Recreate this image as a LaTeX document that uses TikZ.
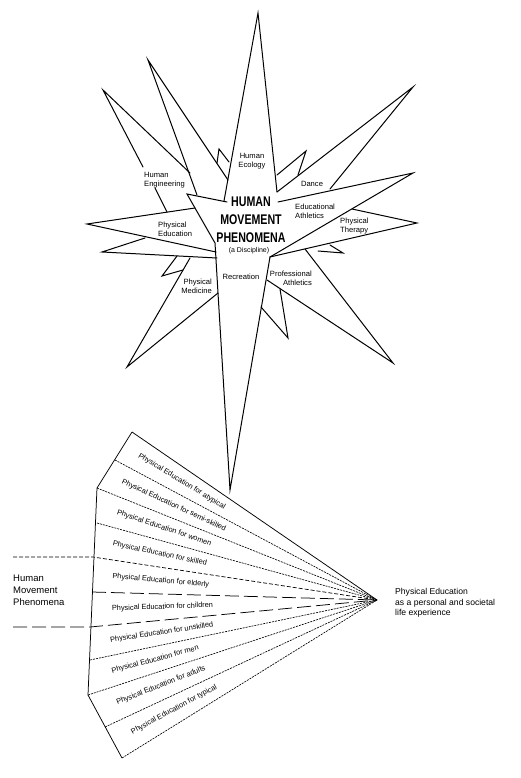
\documentclass[tikz,border=0pt]{standalone}
\usepackage{fontspec}
\setmainfont{Liberation Sans}
\newfontfamily\titlefont{Liberation Sans}[FakeStretch=0.76]
\usetikzlibrary{calc}
\usetikzlibrary{positioning}
\tikzset{
starline/.style={
	draw=black,
	line width=1pt,
	line join=miter,
	line cap=round
},
fanedge/.style={
	draw=black,
	line width=0.75pt
},
fandots/.style={
	draw=black,
	line width=0.65pt,
	dash pattern=on 2pt off 1pt
},
fandash/.style={
	draw=black,
	line width=0.7pt,
	dash pattern=on 4pt off 2pt
},
fanlong/.style={
	draw=black,
	line width=0.75pt,
	dash pattern=on 14pt off 5pt
},
starlabel/.style={
	font=\fontsize{7.6}{9}\selectfont,
	inner sep=0pt,
	align=left
},
paneltext/.style={
	font=\fontsize{7.4}{9}\selectfont,
	inner sep=0pt,
	sloped
},
sidelabel/.style={
	inner sep=0pt,
	align=left,
	anchor=west
}
}

\begin{document}
\begin{tikzpicture}[x=1pt, y=-1pt]
\useasboundingbox (0,0) rectangle (521,778);

% star tips
\coordinate (tEco)  at (258,13);
\coordinate (tB)    at (148,60);
\coordinate (tEng)  at (103,90);
\coordinate (tDance) at (413,87);
\coordinate (tEdu)  at (413,173);
\coordinate (tTher) at (417,223);
\coordinate (tProf) at (393,363);
\coordinate (tProfS) at (288,338);
\coordinate (tBot)  at (230,490);
\coordinate (tMed)  at (127,367);
\coordinate (tMedS) at (162,276);
\coordinate (tPE)   at (87,224);
\coordinate (tPEb)  at (102,252);

% star outline
\draw [starline] (224,201) -- (tEco) -- (277,192);
\draw [starline] (277,175) -- (306,151) -- (298,175);
\draw [starline] (277,192) -- (tDance) -- (330,189);
\draw [starline] (278,202) -- (tEdu) -- (270,257);
\draw [starline] (352,209) -- (tTher) -- (270,257);
\draw [starline] (330,245) -- (343,253) -- (318,251);
\draw [starline] (305,249) -- (tProf) -- (267,280);
\draw [starline] (280,289) -- (tProfS) -- (261,307);
\draw [starline] (270,257) -- (tBot) -- (218,293) -- (215,243) -- (187,194) -- (227,202);
\draw [starline] (197,195) -- (tB) -- (228,180);
\draw [starline] (217,163) -- (219,149) -- (229,162);
\draw [starline] (190,173) -- (tEng) -- (143,167);
\draw [starline] (155,188) -- (167,212);
\draw [starline] (195,208) -- (tPE) -- (216,252);
\draw [starline] (145,238) -- (tPEb) -- (217,258);
\draw [starline] (177,256) -- (tMedS) -- (183,270);
\draw [starline] (190,258) -- (tMed) -- (218,293);

% star labels
\node (eco)  [starlabel, align=center] at (252,161) {Human\\Ecology};
\node (eng)  [starlabel, anchor=west] at (144,180) {Human\\Engineering};
\node (dance) [starlabel] at (312,184) {Dance};
\node (edu)  [starlabel, anchor=west] at (295,211) {Educational\\Athletics};
\node (ther) [starlabel, anchor=west] at (340,226) {Physical\\Therapy};
\node (pe)   [starlabel, anchor=west] at (158,229) {Physical\\Education};
\node (med)  [starlabel, anchor=east, align=right] at (212,286) {Physical\\Medicine};
\node (rec)  [starlabel] at (241,277) {Recreation};
\node (prof) [starlabel, anchor=east, align=right] at (312,278.5) {Professional\\Athletics};
\node (hmp)  [inner sep=0pt, align=center, font=\titlefont\bfseries\fontsize{14}{18}\selectfont] at (251,220) {HUMAN\\MOVEMENT\\PHENOMENA};
\node (disc) [starlabel, font=\fontsize{7}{8}\selectfont] at (249,251) {(a Discipline)};

% fan of panels
\coordinate (apex) at (377,600);
\coordinate (p1)  at (132,432);
\coordinate (p2)  at (115,460);
\coordinate (p3)  at (97,488);
\coordinate (p4)  at (97,523);
\coordinate (p5)  at (93,557);
\coordinate (p6)  at (92,592);
\coordinate (p7)  at (90,627);
\coordinate (p8)  at (90,660);
\coordinate (p9)  at (88,695);
\coordinate (p10) at (105,727);
\coordinate (p11) at (122,758);
\coordinate (h5)  at (13,557);
\coordinate (h7)  at (13,627);

\draw [fanedge] (p1) -- (p3) -- (p9) -- (p11);
\draw [fanedge] (p1) -- (apex);
\draw [fandots] (p2) -- (apex);
\draw [fandots] (p3) -- (apex);
\draw [fandots] (p4) -- (apex);
\draw [fandash] (h5) -- (p5) -- (apex);
\draw [fanlong] (p6) -- (apex);
\draw [fanlong] (h7) -- (p7) -- (apex);
\draw [fandots] (p8) -- (apex);
\draw [fandots] (p9) -- (apex);
\draw [fandots] (p10) -- (apex);
\draw [fandots] (p11) -- (apex);

\path ($(p1)!.5!(p2)$) -- (apex) node [paneltext, pos=.23] {Physical Education for atypical};
\path ($(p2)!.5!(p3)$) -- (apex) node [paneltext, pos=.25] {Physical Education for semi-skilled};
\path ($(p3)!.5!(p4)$) -- (apex) node [paneltext, pos=.24] {Physical Education for women};
\path ($(p4)!.5!(p5)$) -- (apex) node [paneltext, pos=.23] {Physical Education for skilled};
\path ($(p5)!.5!(p6)$) -- (apex) node [paneltext, pos=.24] {Physical Education for elderly};
\path ($(p6)!.5!(p7)$) -- (apex) node [paneltext, pos=.25] {Physical Education for children};
\path ($(p7)!.5!(p8)$) -- (apex) node [paneltext, pos=.25] {Physical Education for unskilled};
\path ($(p8)!.5!(p9)$) -- (apex) node [paneltext, pos=.23] {Physical Education for men};
\path ($(p9)!.5!(p10)$) -- (apex) node [paneltext, pos=.23] {Physical Education for adults};
\path ($(p10)!.5!(p11)$) -- (apex) node [paneltext, pos=.23] {Physical Education for typical};

\node (hmpleft) [sidelabel, font=\fontsize{9.5}{12}\selectfont] at (13,590) {Human\\Movement\\Phenomena};
\node (peright) [sidelabel, font=\fontsize{8.6}{10.5}\selectfont] at (395,603) {Physical Education\\as a personal and societal\\life experience};

\end{tikzpicture}
\end{document}
